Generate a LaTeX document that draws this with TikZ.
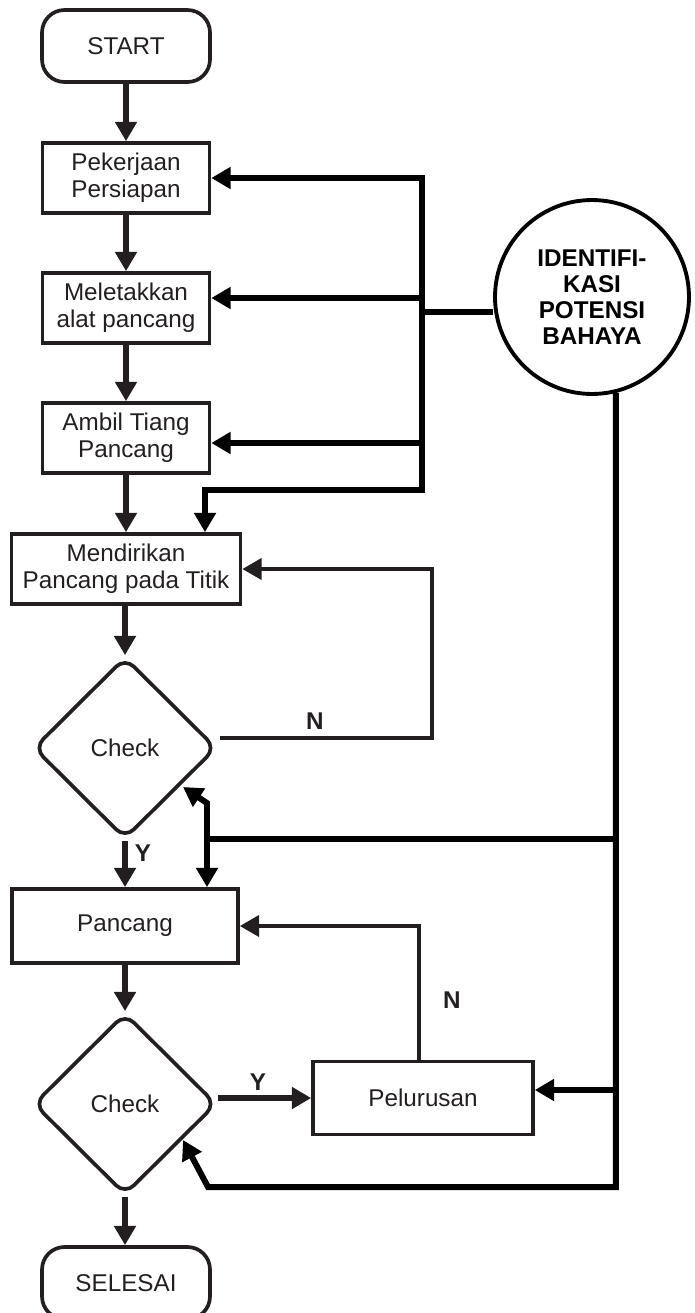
\documentclass[tikz,border=0pt]{standalone}
\usepackage{fontspec}
\setmainfont{Liberation Sans}
\usetikzlibrary{arrows.meta,shapes.geometric}
\definecolor{ink}{RGB}{35,31,32}

\begin{document}
\begin{tikzpicture}[x=0.02cm,y=-0.02cm,>={Triangle[length=11pt,width=12pt]},
  box/.style={draw=ink,line width=2.1pt,text=ink,align=center,inner sep=0pt,font=\fontsize{13.8}{15.3}\selectfont},
  term/.style={box,rounded corners=0.45cm,minimum width=3.36cm,minimum height=1.44cm},
  proc/.style={box,minimum width=3.34cm,minimum height=1.4cm},
  check/.style={box,diamond,rounded corners=0.25cm,minimum width=3.66cm,minimum height=3.64cm},
  flow/.style={->,draw=ink,line width=3pt},
  loop/.style={->,draw=ink,line width=2.2pt},
  bus/.style={draw=black,line width=3.4pt},
  tag/.style={text=ink,font=\bfseries\fontsize{13.8}{15}\selectfont}]
\useasboundingbox (0,0) rectangle (695,1313);

\node[term] (start) at (126,46) {START};
\node[proc] (pek) at (126,178) {Pekerjaan\\Persiapan};
\node[proc] (mel) at (126,308) {Meletakkan\\alat pancang};
\node[proc] (amb) at (126,438) {Ambil Tiang\\Pancang};
\node[proc,minimum width=4.58cm] (men) at (126,569) {Mendirikan\\Pancang pada Titik};
\node[check] (chk1) at (125,748) {Check};
\node[proc,minimum width=4.52cm,minimum height=1.48cm] (pan) at (125,926) {Pancang};
\node[check] (chk2) at (125,1104) {Check};
\node[proc,minimum width=4.4cm,minimum height=1.46cm] (pel) at (423,1098) {Pelurusan};
\node[term] (end) at (126,1283) {SELESAI};
\node[circle,draw=black,line width=2.2pt,minimum size=3.88cm,align=center,inner sep=0pt,
  font=\bfseries\fontsize{13.8}{14.9}\selectfont] (idf) at (592,297) {IDENTIFI-\\KASI\\POTENSI\\BAHAYA};

\draw[flow] (start.south) -- (start.south |- pek.north);
\draw[flow] (pek.south) -- (pek.south |- mel.north);
\draw[flow] (mel.south) -- (mel.south |- amb.north);
\draw[flow] (amb.south) -- (amb.south |- men.north);
\draw[flow] (men.south -| chk1) -- (chk1.north);
\draw[flow] (chk1.south) -- (chk1.south |- pan.north);
\draw[flow] (pan.south) -- (chk2.north);
\draw[flow] (chk2.south) -- (chk2.south |- end.north);
\node[tag] (y1) at (143,853) {Y};

\coordinate (n1a) at (220,738);
\coordinate (n1b) at (432,738);
\draw[loop] (n1a) -- (n1b) |- (men.east);
\node[tag] (n1) at (315,721) {N};

\draw[loop] ([xshift=-0.08cm]pel.north) |- (pan.east);
\node[tag] (n2) at (452,1000) {N};

\draw[flow] (chk2.east |- pel.west) -- (pel.west);
\node[tag] (y2) at (258,1082) {Y};

\coordinate (bt) at (422,178);
\coordinate (bm) at (422,298);
\coordinate (bc) at (422,312);
\coordinate (ba) at (422,443);
\coordinate (bb) at (422,490);
\coordinate (bk) at (205,490);
\draw[bus,<->] (bt -| pek.east) -- (bt) -- (bb) -- (bk) -- (bk |- men.north);
\draw[bus,->] (bm) -- (bm -| mel.east);
\draw[bus,->] (ba) -- (ba -| amb.east);
\draw[bus] (bc) -- (bc -| idf.west);

\coordinate (rt) at (idf.-76);
\coordinate (jm) at (207,839);
\coordinate (ju) at (207,803);
\coordinate (t1) at (183,787);
\coordinate (jb) at (208,1187);
\coordinate (t2) at (183,1140);
\coordinate (rp) at (rt |- 0,1090);
\draw[bus,->] (rt) -- (rt |- jb) -- (jb) -- (t2);
\draw[bus] (rt |- jm) -- (jm);
\draw[bus,<->] (t1) -- (ju) -- (jm |- pan.north);
\draw[bus,->] (rp) -- (rp -| pel.east);
\end{tikzpicture}
\end{document}
